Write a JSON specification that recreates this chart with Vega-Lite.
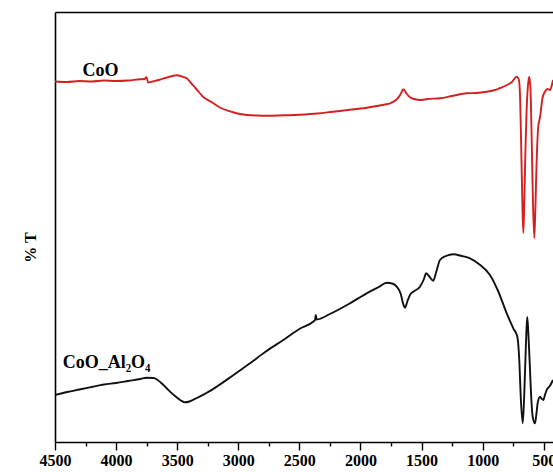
{
  "$schema": "https://vega.github.io/schema/vega-lite/v6.json",
  "width": 498,
  "height": 430,
  "autosize": {"type": "none"},
  "padding": {"left": 55, "top": 12, "right": 0, "bottom": 30},
  "config": {
    "view": {"stroke": null},
    "font": "Liberation Serif",
    "axis": {"domainColor": "#000", "domainWidth": 1.6, "tickColor": "#000", "tickWidth": 1.4, "grid": false}
  },
  "datasets": {
    "spectra": [
      {"series": "CoO", "wn": 4500, "t": 360.5}, {"series": "CoO", "wn": 4400, "t": 360}, {"series": "CoO", "wn": 4300, "t": 361}, {"series": "CoO", "wn": 4200, "t": 360.5}, {"series": "CoO", "wn": 4100, "t": 361.5}, {"series": "CoO", "wn": 4000, "t": 361}, {"series": "CoO", "wn": 3900, "t": 361.5}, {"series": "CoO", "wn": 3804, "t": 362.7}, {"series": "CoO", "wn": 3765, "t": 363}, {"series": "CoO", "wn": 3752, "t": 365}, {"series": "CoO", "wn": 3738, "t": 359.5}, {"series": "CoO", "wn": 3700, "t": 360.5}, {"series": "CoO", "wn": 3650, "t": 362}, {"series": "CoO", "wn": 3600, "t": 364}, {"series": "CoO", "wn": 3540, "t": 366}, {"series": "CoO", "wn": 3504, "t": 366.7}, {"series": "CoO", "wn": 3460, "t": 365.5}, {"series": "CoO", "wn": 3422, "t": 363.7}, {"series": "CoO", "wn": 3380, "t": 358}, {"series": "CoO", "wn": 3350, "t": 354}, {"series": "CoO", "wn": 3289, "t": 345.3}, {"series": "CoO", "wn": 3220, "t": 340}, {"series": "CoO", "wn": 3150, "t": 334.5}, {"series": "CoO", "wn": 3050, "t": 330}, {"series": "CoO", "wn": 2986, "t": 328}, {"series": "CoO", "wn": 2850, "t": 326.5}, {"series": "CoO", "wn": 2767, "t": 326.3}, {"series": "CoO", "wn": 2600, "t": 326.8}, {"series": "CoO", "wn": 2495, "t": 327.3}, {"series": "CoO", "wn": 2350, "t": 328.5}, {"series": "CoO", "wn": 2225, "t": 330.3}, {"series": "CoO", "wn": 2100, "t": 332}, {"series": "CoO", "wn": 1949, "t": 334.3}, {"series": "CoO", "wn": 1800, "t": 337.5}, {"series": "CoO", "wn": 1758, "t": 338.7}, {"series": "CoO", "wn": 1700, "t": 343}, {"series": "CoO", "wn": 1670, "t": 348}, {"series": "CoO", "wn": 1649, "t": 352.7}, {"series": "CoO", "wn": 1620, "t": 348}, {"series": "CoO", "wn": 1594, "t": 344.7}, {"series": "CoO", "wn": 1560, "t": 343}, {"series": "CoO", "wn": 1513, "t": 342}, {"series": "CoO", "wn": 1450, "t": 343}, {"series": "CoO", "wn": 1349, "t": 343.7}, {"series": "CoO", "wn": 1250, "t": 346}, {"series": "CoO", "wn": 1130, "t": 348.7}, {"series": "CoO", "wn": 1050, "t": 349}, {"series": "CoO", "wn": 967, "t": 350.3}, {"series": "CoO", "wn": 900, "t": 352}, {"series": "CoO", "wn": 858, "t": 354}, {"series": "CoO", "wn": 800, "t": 357}, {"series": "CoO", "wn": 760, "t": 360}, {"series": "CoO", "wn": 721, "t": 365.3}, {"series": "CoO", "wn": 705, "t": 363}, {"series": "CoO", "wn": 695, "t": 350}, {"series": "CoO", "wn": 685, "t": 300}, {"series": "CoO", "wn": 675, "t": 240}, {"series": "CoO", "wn": 667, "t": 209}, {"series": "CoO", "wn": 660, "t": 235}, {"series": "CoO", "wn": 650, "t": 290}, {"series": "CoO", "wn": 640, "t": 332}, {"series": "CoO", "wn": 630, "t": 355}, {"series": "CoO", "wn": 618, "t": 365.3}, {"series": "CoO", "wn": 608, "t": 352}, {"series": "CoO", "wn": 598, "t": 300}, {"series": "CoO", "wn": 588, "t": 240}, {"series": "CoO", "wn": 577, "t": 204}, {"series": "CoO", "wn": 568, "t": 235}, {"series": "CoO", "wn": 558, "t": 280}, {"series": "CoO", "wn": 545, "t": 315}, {"series": "CoO", "wn": 530, "t": 325}, {"series": "CoO", "wn": 510, "t": 344}, {"series": "CoO", "wn": 490, "t": 350.3}, {"series": "CoO", "wn": 470, "t": 353}, {"series": "CoO", "wn": 449, "t": 352}, {"series": "CoO", "wn": 435, "t": 356}, {"series": "CoO", "wn": 424, "t": 362},
      {"series": "CoO_Al2O4", "wn": 4500, "t": 47}, {"series": "CoO_Al2O4", "wn": 4400, "t": 50}, {"series": "CoO_Al2O4", "wn": 4300, "t": 52.5}, {"series": "CoO_Al2O4", "wn": 4200, "t": 55}, {"series": "CoO_Al2O4", "wn": 4100, "t": 57.5}, {"series": "CoO_Al2O4", "wn": 4000, "t": 59}, {"series": "CoO_Al2O4", "wn": 3900, "t": 61}, {"series": "CoO_Al2O4", "wn": 3800, "t": 63}, {"series": "CoO_Al2O4", "wn": 3750, "t": 64.3}, {"series": "CoO_Al2O4", "wn": 3700, "t": 64}, {"series": "CoO_Al2O4", "wn": 3682, "t": 63.7}, {"series": "CoO_Al2O4", "wn": 3630, "t": 59}, {"series": "CoO_Al2O4", "wn": 3586, "t": 53.7}, {"series": "CoO_Al2O4", "wn": 3518, "t": 46}, {"series": "CoO_Al2O4", "wn": 3470, "t": 41.5}, {"series": "CoO_Al2O4", "wn": 3436, "t": 39.7}, {"series": "CoO_Al2O4", "wn": 3400, "t": 40.5}, {"series": "CoO_Al2O4", "wn": 3340, "t": 44}, {"series": "CoO_Al2O4", "wn": 3260, "t": 49}, {"series": "CoO_Al2O4", "wn": 3177, "t": 55.3}, {"series": "CoO_Al2O4", "wn": 3050, "t": 66}, {"series": "CoO_Al2O4", "wn": 2904, "t": 78.7}, {"series": "CoO_Al2O4", "wn": 2780, "t": 90}, {"series": "CoO_Al2O4", "wn": 2631, "t": 102}, {"series": "CoO_Al2O4", "wn": 2500, "t": 113}, {"series": "CoO_Al2O4", "wn": 2385, "t": 120.5}, {"series": "CoO_Al2O4", "wn": 2372, "t": 122}, {"series": "CoO_Al2O4", "wn": 2366, "t": 127}, {"series": "CoO_Al2O4", "wn": 2358, "t": 122.5}, {"series": "CoO_Al2O4", "wn": 2250, "t": 128}, {"series": "CoO_Al2O4", "wn": 2086, "t": 138.7}, {"series": "CoO_Al2O4", "wn": 1949, "t": 148.7}, {"series": "CoO_Al2O4", "wn": 1850, "t": 155}, {"series": "CoO_Al2O4", "wn": 1785, "t": 159.3}, {"series": "CoO_Al2O4", "wn": 1740, "t": 158.5}, {"series": "CoO_Al2O4", "wn": 1703, "t": 155.3}, {"series": "CoO_Al2O4", "wn": 1670, "t": 148}, {"series": "CoO_Al2O4", "wn": 1650, "t": 138}, {"series": "CoO_Al2O4", "wn": 1635, "t": 134.3}, {"series": "CoO_Al2O4", "wn": 1615, "t": 141}, {"series": "CoO_Al2O4", "wn": 1590, "t": 148}, {"series": "CoO_Al2O4", "wn": 1567, "t": 150.3}, {"series": "CoO_Al2O4", "wn": 1513, "t": 155.3}, {"series": "CoO_Al2O4", "wn": 1480, "t": 163}, {"series": "CoO_Al2O4", "wn": 1463, "t": 168.7}, {"series": "CoO_Al2O4", "wn": 1440, "t": 166}, {"series": "CoO_Al2O4", "wn": 1404, "t": 161.3}, {"series": "CoO_Al2O4", "wn": 1380, "t": 170}, {"series": "CoO_Al2O4", "wn": 1349, "t": 182}, {"series": "CoO_Al2O4", "wn": 1300, "t": 186}, {"series": "CoO_Al2O4", "wn": 1240, "t": 187.7}, {"series": "CoO_Al2O4", "wn": 1170, "t": 186}, {"series": "CoO_Al2O4", "wn": 1103, "t": 183.7}, {"series": "CoO_Al2O4", "wn": 1020, "t": 177}, {"series": "CoO_Al2O4", "wn": 940, "t": 167}, {"series": "CoO_Al2O4", "wn": 870, "t": 150}, {"series": "CoO_Al2O4", "wn": 803, "t": 128.7}, {"series": "CoO_Al2O4", "wn": 749, "t": 113.7}, {"series": "CoO_Al2O4", "wn": 716, "t": 105.3}, {"series": "CoO_Al2O4", "wn": 700, "t": 82}, {"series": "CoO_Al2O4", "wn": 688, "t": 45}, {"series": "CoO_Al2O4", "wn": 672, "t": 18.7}, {"series": "CoO_Al2O4", "wn": 660, "t": 45}, {"series": "CoO_Al2O4", "wn": 645, "t": 100}, {"series": "CoO_Al2O4", "wn": 635, "t": 125}, {"series": "CoO_Al2O4", "wn": 626, "t": 109.3}, {"series": "CoO_Al2O4", "wn": 615, "t": 80}, {"series": "CoO_Al2O4", "wn": 600, "t": 40}, {"series": "CoO_Al2O4", "wn": 590, "t": 25}, {"series": "CoO_Al2O4", "wn": 571, "t": 18.7}, {"series": "CoO_Al2O4", "wn": 560, "t": 28}, {"series": "CoO_Al2O4", "wn": 548, "t": 40}, {"series": "CoO_Al2O4", "wn": 530, "t": 45.3}, {"series": "CoO_Al2O4", "wn": 515, "t": 43}, {"series": "CoO_Al2O4", "wn": 503, "t": 42}, {"series": "CoO_Al2O4", "wn": 490, "t": 47}, {"series": "CoO_Al2O4", "wn": 476, "t": 52}, {"series": "CoO_Al2O4", "wn": 450, "t": 56}, {"series": "CoO_Al2O4", "wn": 424, "t": 62}
    ],
    "labels": [
      {"label": "CoO", "wn": 4274, "t": 366},
      {"label": "CoO_Al₂O₄", "wn": 4437, "t": 73.7}
    ]
  },
  "resolve": {"axis": {"x": "independent"}},
  "layer": [
    {
      "data": {"name": "spectra"},
      "transform": [{"filter": "datum.series === 'CoO'"}],
      "mark": {"type": "line", "clip": true, "strokeWidth": 1.9, "interpolate": "monotone"},
      "encoding": {
        "x": {"field": "wn", "type": "quantitative", "scale": {"domain": [4500, 424], "nice": false, "zero": false},
              "axis": {"orient": "bottom", "values": [4500, 4000, 3500, 3000, 2500, 2000, 1500, 1000, 500], "title": null, "tickSize": 8, "labelPadding": 2, "labelFont": "Liberation Serif", "labelFontWeight": "bold", "labelFontSize": 16, "labelColor": "#000", "labelFlush": false, "labelOverlap": false, "format": "d"}},
        "y": {"field": "t", "type": "quantitative", "scale": {"domain": [0, 430], "nice": false, "zero": false},
              "axis": {"title": "% T", "labels": false, "ticks": false, "titleFont": "Liberation Serif", "titleFontWeight": "bold", "titleFontSize": 16, "titleColor": "#000", "titlePadding": 17, "titleY": 235}},
        "color": {"field": "series", "type": "nominal", "scale": {"domain": ["CoO", "CoO_Al2O4"], "range": ["#d42020", "#111111"]}, "legend": null}
      }
    },
    {
      "data": {"name": "spectra"},
      "transform": [{"filter": "datum.series === 'CoO_Al2O4'"}],
      "mark": {"type": "line", "clip": true, "strokeWidth": 1.9, "interpolate": "monotone"},
      "encoding": {
        "x": {"field": "wn", "type": "quantitative", "scale": {"domain": [4500, 424], "nice": false, "zero": false},
              "axis": {"orient": "bottom", "values": [4250, 3750, 3250, 2750, 2250, 1750, 1250, 750], "title": null, "tickSize": 4, "labels": false, "domain": false}},
        "y": {"field": "t", "type": "quantitative", "scale": {"domain": [0, 430], "nice": false, "zero": false},
              "axis": {"title": "% T", "labels": false, "ticks": false, "titleFont": "Liberation Serif", "titleFontWeight": "bold", "titleFontSize": 16, "titleColor": "#000", "titlePadding": 17, "titleY": 235}},
        "color": {"field": "series", "type": "nominal", "scale": {"domain": ["CoO", "CoO_Al2O4"], "range": ["#d42020", "#111111"]}, "legend": null}
      }
    },
    {
      "data": {"name": "labels"},
      "mark": {"type": "text", "align": "left", "baseline": "alphabetic", "font": "Liberation Serif", "fontWeight": "bold", "fontSize": 18, "color": "#000"},
      "encoding": {
        "x": {"field": "wn", "type": "quantitative", "scale": {"domain": [4500, 424], "nice": false, "zero": false},
              "axis": {"orient": "top", "labels": false, "ticks": false, "title": null, "domain": true}},
        "y": {"field": "t", "type": "quantitative", "scale": {"domain": [0, 430], "nice": false, "zero": false},
              "axis": {"title": "% T", "labels": false, "ticks": false, "titleFont": "Liberation Serif", "titleFontWeight": "bold", "titleFontSize": 16, "titleColor": "#000", "titlePadding": 17, "titleY": 235}},
        "text": {"field": "label", "type": "nominal"}
      }
    }
  ]
}
